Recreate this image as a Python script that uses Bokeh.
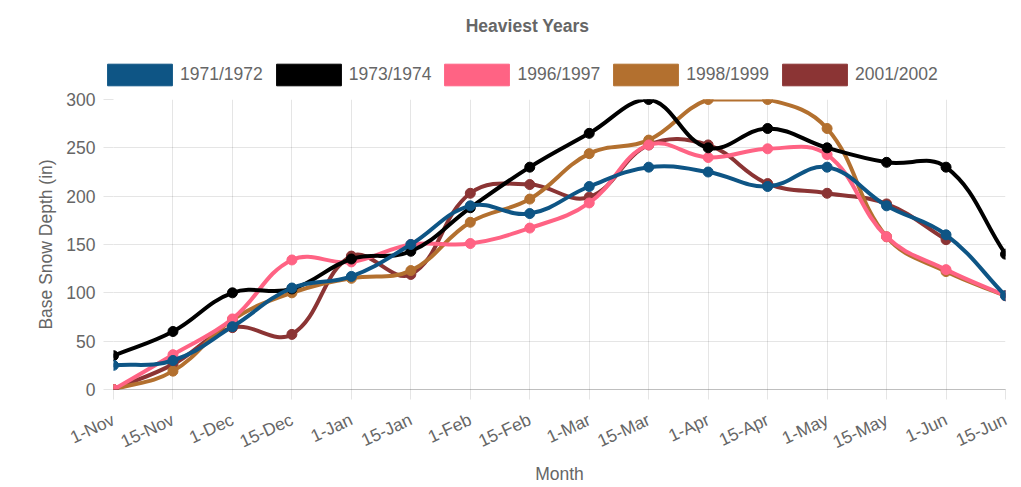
import math
from bokeh.plotting import figure
from bokeh.layouts import column
from bokeh.models import Range1d, FixedTicker, Legend, LegendItem, Label
from bokeh.embed import file_html
from bokeh.resources import INLINE

# ---------------- data ----------------
months = ["1-Nov", "15-Nov", "1-Dec", "15-Dec", "1-Jan", "15-Jan", "1-Feb", "15-Feb",
          "1-Mar", "15-Mar", "1-Apr", "15-Apr", "1-May", "15-May", "1-Jun", "15-Jun"]
y_ticks = [0, 50, 100, 150, 200, 250, 300]

series_names = ["1971/1972", "1973/1974", "1996/1997", "1998/1999", "2001/2002"]
s_1971_1972 = [25, 30, 65, 105, 117, 150, 190, 182, 210, 230, 225, 210, 230, 190, 160, 97]
s_1973_1974 = [35, 60, 100, 104, 135, 143, 188, 230, 265, 300, 250, 270, 250, 235, 230, 140]
s_1996_1997 = [0, 36, 73, 134, 132, 150, 151, 167, 193, 253, 240, 249, 243, 158, 124, 97]
s_1998_1999 = [0, 19, 72, 100, 115, 123, 173, 197, 244, 258, 300, 300, 270, 158, 122, 97]
s_2001_2002 = [0, 26, 64, 57, 138, 119, 203, 212, 199, 253, 253, 213, 203, 192, 155, None]
series_values = [s_1971_1972, s_1973_1974, s_1996_1997, s_1998_1999, s_2001_2002]
series_colors = ["#0E5585", "#000000", "#FF6384", "#B3702F", "#8B3434"]

# ---------------- layout ----------------
W, H = 1021, 487
HH = 90                      # header (title + legend) height
ML, MR, MT, MB = 113, 16, 9, 97
FW, FH = W - ML - MR, H - HH - MT - MB
XMAX, YMAX = len(months) - 1, 300
XS, YS = FW / XMAX, FH / YMAX
T = 0.4
FONT = "Liberation Sans"
TXT = "#666666"
FS = "17.5px"
NAN = float("nan")

# ---------------- header: title + legend ----------------
header = figure(width=W, height=HH, output_backend="svg", toolbar_location=None,
                x_range=Range1d(0, 1), y_range=Range1d(0, 1),
                x_axis_location=None, y_axis_location=None, title_location=None,
                min_border_left=0, min_border_right=0, min_border_top=0, min_border_bottom=0)
header.frame_align = False
header.outline_line_color = None
header.xgrid.visible = False
header.ygrid.visible = False

header.add_layout(Label(x=527, y=HH - 25, x_units="screen", y_units="screen",
                        text="Heaviest Years", text_align="center", text_baseline="alphabetic",
                        text_font=FONT, text_font_size=FS, text_font_style="bold",
                        text_color=TXT))

items = []
for name, col in zip(series_names, series_colors):
    # legend swatch only: the glyph itself has no visible position
    r = header.quad(left=[NAN], right=[NAN], top=[NAN], bottom=[NAN], fill_color=col,
                    line_color=col, line_width=1)
    items.append(LegendItem(label=name, renderers=[r]))
legend = Legend(items=items, orientation="horizontal", location=(99, HH - 88),
                glyph_width=81, glyph_height=27, label_standoff=-2, spacing=5,
                padding=0, margin=0, border_line_color=None, background_fill_alpha=0,
                label_text_font=FONT, label_text_font_size=FS, label_text_color=TXT)
header.add_layout(legend, "center")

# ---------------- main chart ----------------
p = figure(width=W, height=H - HH, output_backend="svg", toolbar_location=None,
           x_range=Range1d(0, XMAX), y_range=Range1d(0, YMAX), title_location=None,
           min_border_left=ML, min_border_right=MR, min_border_top=MT, min_border_bottom=MB)
p.frame_align = False
p.outline_line_color = None
p.background_fill_color = "white"

for g in (p.xgrid, p.ygrid):
    g.grid_line_color = "black"
    g.grid_line_alpha = 0.1
p.xgrid.ticker = FixedTicker(ticks=list(range(len(months))))
p.ygrid.ticker = FixedTicker(ticks=y_ticks)

xa = p.xaxis[0]
xa.ticker = FixedTicker(ticks=list(range(len(months))))
xa.major_label_overrides = {i: m for i, m in enumerate(months)}
xa.major_label_orientation = math.radians(25)
ya = p.yaxis[0]
ya.ticker = FixedTicker(ticks=y_ticks)
for ax in (xa, ya):
    ax.major_tick_in = 0
    ax.major_tick_out = 10
    ax.major_tick_line_color = "black"
    ax.major_tick_line_alpha = 0.1
    ax.minor_tick_line_color = None
    ax.major_label_text_font = FONT
    ax.major_label_text_font_size = FS
    ax.major_label_text_color = TXT
    ax.axis_label_text_font = FONT
    ax.axis_label_text_font_size = FS
    ax.axis_label_text_color = TXT
    ax.axis_label_text_font_style = "normal"
xa.axis_line_color = "black"
xa.axis_line_alpha = 0.25
ya.axis_line_color = None
xa.major_label_standoff = 19
ya.major_label_standoff = 8
xa.axis_label = "Month"
ya.axis_label = "Base Snow Depth (in)"
xa.axis_label_standoff = 0
ya.axis_label_standoff = 7


def control_points(vals):
    pts = [None if v is None else (i * XS, v * YS) for i, v in enumerate(vals)]
    n = len(pts)
    cps = [None] * n
    for i in range(n):
        cur = pts[i]
        if cur is None:
            continue
        prev = pts[i - 1] if i > 0 and pts[i - 1] is not None else cur
        nxt = pts[i + 1] if i < n - 1 and pts[i + 1] is not None else cur
        d01 = math.hypot(cur[0] - prev[0], cur[1] - prev[1])
        d12 = math.hypot(nxt[0] - cur[0], nxt[1] - cur[1])
        tot = d01 + d12
        s01 = d01 / tot if tot else 0.0
        s12 = d12 / tot if tot else 0.0
        fa, fb = T * s01, T * s12
        c1 = (cur[0] - fa * (nxt[0] - prev[0]), cur[1] - fa * (nxt[1] - prev[1]))
        c2 = (cur[0] + fb * (nxt[0] - prev[0]), cur[1] + fb * (nxt[1] - prev[1]))

        def cap(c):
            x = min(max(c[0], 0), XMAX * XS)
            y = min(max(c[1], 0), YMAX * YS)
            return (x / XS, y / YS)
        cps[i] = (cap(c1), cap(c2))
    return cps


# Chart.js draws the first dataset on top: draw in reverse order
for name, vals, col in reversed(list(zip(series_names, series_values, series_colors))):
    cps = control_points(vals)
    x0, y0, x1, y1, cx0, cy0, cx1, cy1 = [], [], [], [], [], [], [], []
    for i in range(len(vals) - 1):
        if vals[i] is None or vals[i + 1] is None:
            continue
        x0.append(i); y0.append(vals[i]); x1.append(i + 1); y1.append(vals[i + 1])
        cx0.append(cps[i][1][0]); cy0.append(cps[i][1][1])
        cx1.append(cps[i + 1][0][0]); cy1.append(cps[i + 1][0][1])
    p.bezier(x0=x0, y0=y0, x1=x1, y1=y1, cx0=cx0, cy0=cy0, cx1=cx1, cy1=cy1,
             line_color=col, line_width=4, line_cap="round")
    px = [i for i, v in enumerate(vals) if v is not None]
    py = [v for v in vals if v is not None]
    p.scatter(px, py, size=10, fill_color=col, line_color=col, line_width=1)

layout = column(header, p, spacing=0)
open("out.html", "w").write(file_html(layout, INLINE))
